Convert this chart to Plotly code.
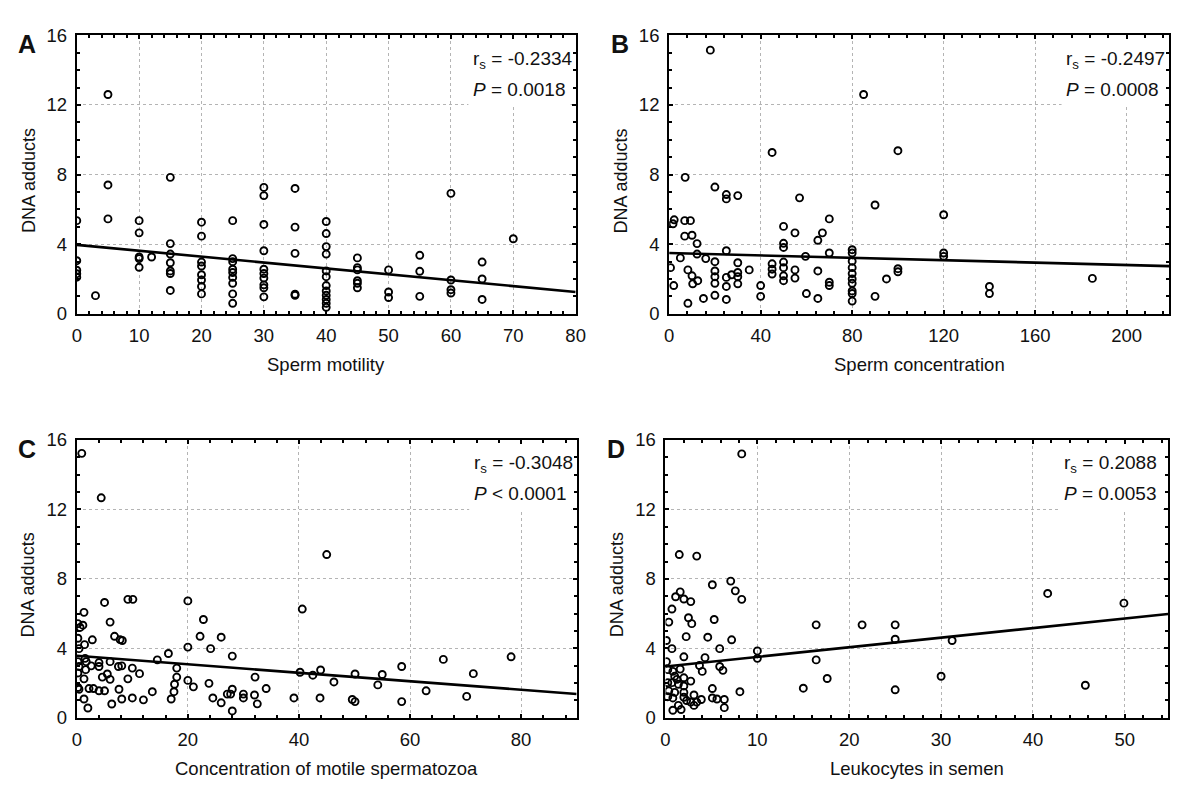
import plotly.graph_objects as go

W, H = 1180, 791
FONT = "Liberation Sans, Arial, sans-serif"

# ---- panel A: sperm motility ----
motility_x = [0, 0, 0, 0, 0, 3, 5, 5, 5,
              10, 10, 10, 10, 10, 12,
              15, 15, 15, 15, 15, 15, 15,
              20, 20, 20, 20, 20, 20, 20, 20,
              25, 25, 25, 25, 25, 25, 25, 25, 25,
              30, 30, 30, 30, 30, 30, 30, 30, 30, 30,
              35, 35, 35, 35, 35,
              40, 40, 40, 40, 40, 40, 40, 40, 40, 40, 40, 40,
              45, 45, 45, 45, 45, 45,
              50, 50, 50, 55, 55, 55,
              60, 60, 60, 60, 65, 65, 65, 70]
motility_y = [5.35, 3.05, 2.5, 2.3, 2.1, 1.04, 12.6, 7.4, 5.45,
              5.35, 4.65, 3.26, 3.17, 2.67, 3.26,
              7.84, 4.03, 3.43, 2.93, 2.46, 2.31, 1.34,
              5.26, 4.46, 2.97, 2.74, 2.24, 1.94, 1.57, 1.14,
              5.35, 3.17, 2.99, 2.56, 2.37, 2.09, 1.75, 1.14, 0.6,
              7.26, 6.79, 5.13, 3.62, 2.56, 2.31, 2.05, 1.66, 1.49, 0.97,
              7.2, 4.98, 3.47, 1.12, 1.06,
              5.3, 4.61, 3.86, 3.43, 2.46, 2.13, 1.62, 1.31, 1.06, 0.82, 0.6, 0.37,
              3.21, 2.65, 2.52, 1.9, 1.75, 1.49,
              2.52, 1.25, 0.93, 3.36, 2.44, 1.0,
              6.92, 1.94, 1.38, 1.19, 2.97, 2.0, 0.82, 4.31]

# ---- panel B: sperm concentration ----
conc_x = [18, 7, 20, 25, 25, 30, 45, 57, 90, 85,
          1.7, 2.2, 6.8, 9.3, 6.8, 10, 4.9, 0.6, 2, 8.2,
          10, 10.3, 12.2, 12.2, 12.5, 8.2, 15, 16,
          20, 20, 20, 20, 20, 25, 25, 25, 25, 27.3,
          30, 30, 30, 30, 35, 40, 40, 45, 45, 45,
          50, 50, 50, 50, 50, 50, 50, 55, 55, 55,
          59.6, 60, 65, 65, 65, 67, 70, 70, 70, 70,
          80, 80, 80, 80, 80, 80, 80, 80, 80, 80,
          90, 95, 100, 100, 100, 120, 120, 120, 140, 140, 185]
conc_y = [15.15, 7.84, 7.28, 6.85, 6.6, 6.79, 9.27, 6.66, 6.25, 12.6,
          5.17, 5.4, 5.35, 5.35, 4.46, 4.51, 3.21, 2.65, 1.62, 2.52,
          2.18, 1.72, 4.03, 3.43, 1.9, 0.6, 0.88, 3.17,
          2.99, 2.46, 2.13, 1.75, 1.06, 3.62, 2.09, 1.57, 0.82, 2.24,
          2.93, 2.37, 2.13, 1.72, 2.52, 1.62, 1.0, 2.87, 2.56, 2.28,
          5.02, 4.05, 3.81, 2.97, 2.65, 2.18, 1.9, 4.65, 2.52, 2.05,
          3.3, 1.16, 4.22, 2.46, 0.88, 4.65, 5.45, 3.49, 1.81, 1.62,
          3.68, 3.49, 3.02, 2.65, 2.31, 2.0, 1.75, 1.31, 1.16, 0.73,
          1.0, 2.0, 9.37, 2.59, 2.41, 5.69, 3.49, 3.3, 1.57, 1.16, 2.03]

# ---- panel C: concentration of motile spermatozoa ----
motile_x = [0.9, 4.4, 5.0, 9.2, 10.1, 1.3, 0.2, 1.1, 0.6, 6.0,
            6.8, 7.8, 8.2, 0.2, 1.4, 2.8, 0.4, 1.5, 1.7, 0.2,
            0.4, 1.6, 2.6, 4.0, 4.0, 6.0, 7.5, 8.1, 0.2, 1.3,
            4.6, 5.5, 6.0, 0.2, 0.4, 2.2, 3.0, 4.0, 5.0, 1.3,
            2.0, 6.3, 7.6, 8.1, 9.2, 10.0, 10.0, 11.3, 12.0, 13.6,
            14.5, 16.5, 17.0, 17.5, 17.6, 18.0, 18.0, 20.0, 20.0, 20.0,
            21.0, 22.2, 22.8, 24.1, 23.8, 24.5, 26.0, 26.0, 27.1, 27.7,
            28.0, 28.0, 28.0, 30.0, 30.0, 32.0, 32.1, 32.5, 34.1, 39.1,
            40.2, 40.6, 42.5, 43.9, 43.8, 45.0, 46.3, 50.1, 49.6, 50.1,
            54.2, 55.0, 58.5, 58.5, 62.9, 66.0, 70.2, 71.4, 78.2]
motile_y = [15.23, 12.67, 6.64, 6.82, 6.82, 6.07, 5.42, 5.33, 5.2, 5.51,
            4.69, 4.5, 4.45, 4.58, 4.21, 4.49, 3.98, 3.42, 3.23, 3.23,
            2.95, 2.77, 2.99, 3.18, 2.95, 3.23, 2.95, 2.99, 2.58, 2.24,
            2.34, 2.52, 2.21, 1.74, 1.64, 1.68, 1.68, 1.55, 1.55, 1.08,
            0.56, 0.79, 1.64, 1.08, 2.24, 2.86, 1.14, 2.54, 1.03, 1.5,
            3.33, 3.7, 1.08, 1.5, 1.93, 2.34, 2.86, 6.73, 4.07, 2.15,
            1.78, 4.69, 5.66, 3.98, 1.98, 1.14, 4.64, 0.86, 1.36, 1.36,
            1.64, 3.55, 0.39, 1.36, 1.14, 1.31, 2.34, 0.8, 1.68, 1.14,
            2.62, 6.26, 2.45, 2.75, 1.14, 9.4, 2.06, 2.52, 1.05, 0.93,
            1.89, 2.49, 2.95, 0.93, 1.55, 3.36, 1.23, 2.54, 3.51]

# ---- panel D: leukocytes in semen ----
leuko_x = [8.3, 1.5, 3.4, 7.1, 7.6, 5.1, 1.6, 1.1, 2.0, 2.75,
           8.3, 0.7, 0.36, 2.5, 2.86, 5.3, 2.25, 4.6, 7.2, 0.1,
           0.7, 5.9, 10.0, 10.0, 2.0, 4.3, 0.1, 3.7, 5.9, 4.0,
           6.25, 0.25, 0.8, 1.6, 1.0, 1.25, 2.0, 2.75, 0.25, 0.7,
           1.4, 2.0, 0.36, 1.0, 2.0, 3.1, 5.1, 8.1, 0.25, 0.8,
           2.0, 2.3, 2.75, 3.4, 3.9, 3.1, 5.1, 5.6, 6.4, 6.4,
           0.8, 1.7, 1.4, 16.4, 16.4, 15.0, 17.6, 21.4, 25.0, 25.0,
           25.0, 30.0, 31.2, 41.6, 45.7, 49.9]
leuko_y = [15.2, 9.4, 9.31, 7.87, 7.31, 7.66, 7.25, 6.97, 6.84, 6.69,
           6.82, 6.26, 5.51, 5.76, 5.42, 5.66, 4.67, 4.64, 4.49, 4.45,
           3.98, 3.98, 3.85, 3.42, 3.51, 3.46, 3.23, 3.01, 2.95, 2.67,
           2.73, 2.77, 2.67, 2.8, 2.39, 2.21, 2.3, 2.11, 2.02, 2.02,
           1.93, 1.83, 1.55, 1.46, 1.46, 1.31, 1.68, 1.5, 1.21, 1.14,
           1.18, 0.99, 0.9, 0.9, 1.05, 0.71, 1.14, 1.08, 1.05, 0.58,
           0.43, 0.47, 0.71, 5.35, 3.33, 1.7, 2.26, 5.35, 5.35, 4.52,
           1.61, 2.39, 4.45, 7.16, 1.87, 6.6]

# regression lines (intercept, slope) and stats per panel
intercepts = [3.96, 3.49, 3.57, 2.95]
slopes = [-0.0339, -0.00344, -0.0245, 0.0554]
rs_labels = ["-0.2334", "-0.2497", "-0.3048", "0.2088"]
p_labels = ["= 0.0018", "= 0.0008", "&lt; 0.0001", "= 0.0053"]
x_titles = ["Sperm motility", "Sperm concentration",
            "Concentration of motile spermatozoa", "Leukocytes in semen"]
letters = ["A", "B", "C", "D"]

panels = [
    dict(x=motility_x, y=motility_y, xmax=80, dtick=10, minor=2,
         xdom=[72.7, 578], ydom=[25, 311]),
    dict(x=conc_x, y=conc_y, xmax=218.5, dtick=40, minor=8,
         xdom=[672.7, 1179], ydom=[25, 311]),
    dict(x=motile_x, y=motile_y, xmax=90, dtick=20, minor=4,
         xdom=[72.7, 579], ydom=[440.7, 726]),
    dict(x=leuko_x, y=leuko_y, xmax=54.7, dtick=10, minor=2,
         xdom=[669, 1178], ydom=[440.7, 726]),
]

fig = go.Figure()
annotations = []
shapes = []

for i, p in enumerate(panels):
    n = "" if i == 0 else str(i + 1)
    xa, ya = "x" + n, "y" + n

    fig.add_trace(go.Scatter(
        x=p["x"], y=p["y"], xaxis=xa, yaxis=ya, mode="markers",
        marker=dict(symbol="circle-open", size=7, color="black",
                    line=dict(width=1.9, color="black")),
        showlegend=False,
    ))
    xs = [0, p["xmax"]]
    fig.add_trace(go.Scatter(
        x=xs, y=[intercepts[i] + slopes[i] * v for v in xs],
        xaxis=xa, yaxis=ya, mode="lines",
        line=dict(color="black", width=2.6), showlegend=False,
    ))

    common = dict(
        showline=True, linecolor="black", linewidth=2, mirror="allticks",
        ticks="inside", ticklen=4, tickwidth=1.5, tickcolor="black",
        showgrid=True, gridcolor="#b4b4b4", griddash="dot", gridwidth=1,
        zeroline=False, tick0=0, ticklabelstandoff=4,
        tickfont=dict(family=FONT, size=18.5, color="#111"),
    )
    xd = [p["xdom"][0] / W, p["xdom"][1] / W]
    yd = [1 - p["ydom"][1] / H, 1 - p["ydom"][0] / H]
    fig.layout["xaxis" + n] = dict(
        common, domain=xd, anchor=ya, range=[0, p["xmax"]], dtick=p["dtick"],
        minor=dict(dtick=p["minor"], ticks="inside", ticklen=3,
                   tickcolor="black", showgrid=False),
    )
    fig.layout["yaxis" + n] = dict(
        common, domain=yd, anchor=xa, range=[0, 16], dtick=4,
        minor=dict(dtick=1, ticks="inside", ticklen=3,
                   tickcolor="black", showgrid=False),
    )

    # white box behind the statistics (kept inside the frame)
    shapes.append(dict(type="rect", xref=xa + " domain", yref=ya + " domain",
                       x0=0.785, x1=0.99, y0=0.745, y1=0.985,
                       fillcolor="white", line=dict(width=0), layer="above"))
    annotations.append(dict(
        xref=xa + " domain", yref=ya + " domain", x=0.79, y=0.912,
        xanchor="left", yanchor="middle", showarrow=False,
        text="r<sub>s</sub> = " + rs_labels[i],
        font=dict(family=FONT, size=19, color="#111")))
    annotations.append(dict(
        xref=xa + " domain", yref=ya + " domain", x=0.79, y=0.806,
        xanchor="left", yanchor="middle", showarrow=False,
        text="<i>P</i> " + p_labels[i],
        font=dict(family=FONT, size=19, color="#111")))

    # axis titles and panel letter
    cx = (p["xdom"][0] + p["xdom"][1]) / 2 / W
    cy = 1 - (p["ydom"][0] + p["ydom"][1]) / 2 / H
    annotations.append(dict(
        xref="paper", yref="paper", x=cx, y=1 - (p["ydom"][1] + 52) / H,
        xanchor="center", yanchor="middle", showarrow=False,
        text=x_titles[i], font=dict(family=FONT, size=18.5, color="#111")))
    annotations.append(dict(
        xref="paper", yref="paper", x=(p["xdom"][0] - 49) / W, y=cy - 0.008,
        xanchor="center", yanchor="middle", showarrow=False, textangle=-90,
        text="DNA adducts", font=dict(family=FONT, size=18, color="#111")))
    annotations.append(dict(
        xref="paper", yref="paper", x=(p["xdom"][0] - 50) / W,
        y=1 - (p["ydom"][0] + 9) / H,
        xanchor="center", yanchor="middle", showarrow=False,
        text="<b>" + letters[i] + "</b>",
        font=dict(family=FONT, size=25, color="#111")))

fig.update_layout(
    width=W, height=H,
    margin=dict(l=0, r=0, t=0, b=0),
    paper_bgcolor="white", plot_bgcolor="white",
    annotations=annotations, shapes=shapes,
)

# drop the default page margin so the figure sits at the window's corner
fig.write_html("out.html", config={"displayModeBar": False},
               post_script="document.body.style.margin='0';"
                           "document.body.style.overflow='hidden';")
